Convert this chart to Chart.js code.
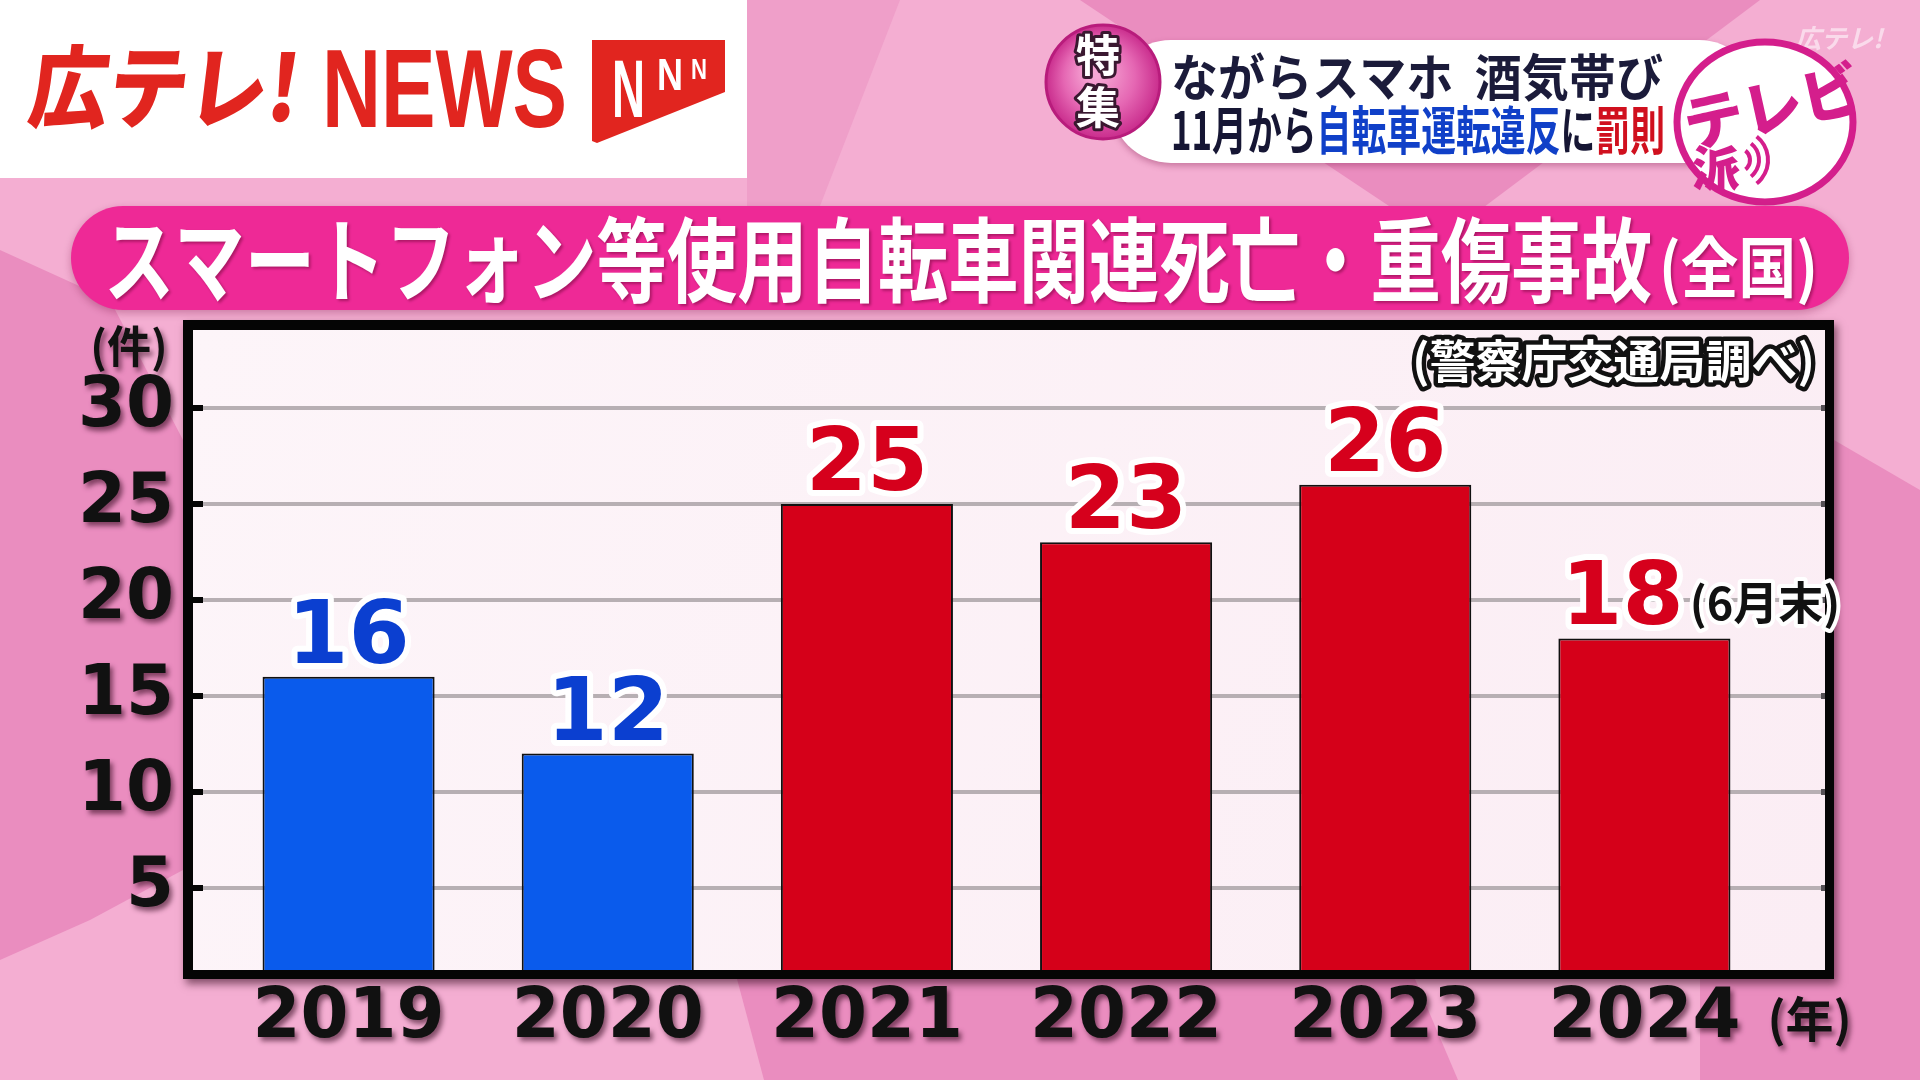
<!DOCTYPE html>
<html>
<head>
<meta charset="utf-8">
<script src="https://cdn.jsdelivr.net/npm/chart.js@4"></script>
<style>
  html, body { margin: 0; padding: 0; overflow: hidden; background: #f4add1; }
  canvas { position: absolute; left: 0; top: 0; }
</style>
</head>
<body>
<canvas id="bg" width="1920" height="1080"></canvas>
<canvas id="casesChart" width="1920" height="1080"></canvas>
<script>
// data
const years = ['2019', '2020', '2021', '2022', '2023', '2024'];
const cases = [16, 12, 25, 23, 26, 18];
const caseNotes = ['', '', '', '', '', '(6月末)'];
const yTicks = [5, 10, 15, 20, 25, 30];
const yMin = 0.73;
const yMax = 34.06;

const title = 'スマートフォン等使用自転車関連死亡・重傷事故';
const titleSub = '(全国)';
const sourceText = '(警察庁交通局調べ)';
const yUnit = '(件)';
const xUnit = '(年)';

const BLUE = '#0a5bec';
const RED = '#d50019';
const LABEL_BLUE = '#0b3fd0';
const LABEL_RED = '#d6001c';
const JP = '"Noto Sans CJK JP"';

// ---------- background + header (plain canvas) ----------
function poly(ctx, pts, color) {
    ctx.beginPath();
    ctx.moveTo(pts[0][0], pts[0][1]);
    for (let i = 1; i < pts.length; i++) ctx.lineTo(pts[i][0], pts[i][1]);
    ctx.closePath();
    ctx.fillStyle = color;
    ctx.fill();
}

function fitText(ctx, text, x, y, w, font, fill, stroke, lw) {
    ctx.save();
    ctx.font = font;
    const m = ctx.measureText(text).width;
    ctx.translate(x, y);
    ctx.scale(w / m, 1);
    ctx.textAlign = 'left';
    if (stroke) {
        ctx.lineJoin = 'round';
        ctx.strokeStyle = stroke;
        ctx.lineWidth = lw;
        ctx.strokeText(text, 0, 0);
    }
    ctx.fillStyle = fill;
    ctx.fillText(text, 0, 0);
    ctx.restore();
}

function roundRect(ctx, x, y, w, h, r) {
    ctx.beginPath();
    ctx.moveTo(x + r, y);
    ctx.lineTo(x + w - r, y);
    ctx.arc(x + w - r, y + r, r, -Math.PI / 2, 0);
    ctx.lineTo(x + w, y + h - r);
    ctx.arc(x + w - r, y + h - r, r, 0, Math.PI / 2);
    ctx.lineTo(x + r, y + h);
    ctx.arc(x + r, y + h - r, r, Math.PI / 2, Math.PI);
    ctx.lineTo(x, y + r);
    ctx.arc(x + r, y + r, r, Math.PI, Math.PI * 1.5);
    ctx.closePath();
}

function drawBackground() {
    const c = document.getElementById('bg').getContext('2d');
    const dark = '#ea8dbf';
    c.fillStyle = '#f4aed2';
    c.fillRect(0, 0, 1920, 1080);

    // darker facets
    poly(c, [[0, 250], [110, 300], [183, 440], [183, 870], [90, 920], [0, 960]], dark);
    poly(c, [[737, 979], [764, 1080], [1458, 1080], [1415, 979]], dark);
    poly(c, [[1700, 979], [1700, 1080], [1920, 1080], [1920, 979]], dark);
    poly(c, [[1834, 440], [1920, 490], [1920, 1080], [1834, 1080]], dark);
    poly(c, [[1080, 0], [1760, 0], [1440, 240]], dark);
    poly(c, [[747, 0], [900, 0], [820, 206], [747, 206]], '#ef9fc9');

    // logo box
    c.fillStyle = '#ffffff';
    c.fillRect(0, 0, 747, 178);
    c.textBaseline = 'middle';
    c.save();
    c.translate(22, 87);
    c.transform(1, 0, -0.12, 1, 0, 0);
    fitText(c, '広テレ!', 8, 0, 270, '900 90px ' + JP, '#e1251f');
    c.restore();
    c.textBaseline = 'alphabetic';
    fitText(c, 'NEWS', 322, 127, 245, 'bold 112px "Liberation Sans"', '#e1251f');
    poly(c, [[592, 40], [725, 40], [725, 92], [597, 143], [592, 141]], '#e1251f');
    fitText(c, 'N', 612, 117, 33, 'bold 82px "Liberation Sans"', '#ffffff');
    fitText(c, 'N', 657, 90, 26, 'bold 44px "Liberation Sans"', '#ffffff');
    fitText(c, 'N', 691, 79, 16, 'bold 29px "Liberation Sans"', '#ffffff');

    // faint watermark
    c.font = 'italic bold 26px ' + JP;
    c.fillStyle = 'rgba(255,255,255,0.55)';
    c.fillText('広テレ!', 1795, 48);

    // white pill of the feature header
    c.save();
    c.shadowColor = 'rgba(120,20,70,0.35)';
    c.shadowBlur = 6;
    c.shadowOffsetY = 3;
    roundRect(c, 1110, 40, 650, 123, 61);
    c.fillStyle = '#ffffff';
    c.fill();
    c.restore();

    // 特集 badge
    const g = c.createRadialGradient(1095, 70, 8, 1103, 82, 58);
    g.addColorStop(0, '#f6a6d4');
    g.addColorStop(0.55, '#e567b3');
    g.addColorStop(1, '#c82a8b');
    c.beginPath();
    c.arc(1103, 82, 57, 0, Math.PI * 2);
    c.fillStyle = g;
    c.fill();
    c.lineWidth = 3;
    c.strokeStyle = '#b81c7c';
    c.stroke();
    c.textBaseline = 'middle';
    c.textAlign = 'center';
    c.font = 'bold 44px ' + JP;
    c.lineJoin = 'round';
    c.lineWidth = 6;
    c.strokeStyle = '#3a1830';
    c.fillStyle = '#ffffff';
    c.strokeText('特', 1098, 55);
    c.fillText('特', 1098, 55);
    c.strokeText('集', 1098, 107);
    c.fillText('集', 1098, 107);
    c.textAlign = 'left';

    // header lines
    fitText(c, 'ながらスマホ  酒気帯び', 1171, 77, 492, 'bold 50px ' + JP, '#1b1b3a');
    const parts = [['11月から', '#161634'], ['自転車運転違反', '#1040c8'], ['に', '#161634'], ['罰則', '#d0101e']];
    c.font = 'bold 52px ' + JP;
    let total = 0;
    parts.forEach(p => { total += c.measureText(p[0]).width; });
    const s = 494 / total;
    let px = 1171;
    parts.forEach(p => {
        const w = c.measureText(p[0]).width * s;
        fitText(c, p[0], px, 130, w, 'bold 52px ' + JP, p[1]);
        px += w;
    });

    // テレビ派 logo
    c.beginPath();
    c.ellipse(1765, 122, 88, 80, 0, 0, Math.PI * 2);
    c.fillStyle = '#ffffff';
    c.fill();
    c.lineWidth = 7;
    c.strokeStyle = '#d41e8c';
    c.stroke();
    c.save();
    c.translate(1772, 106);
    c.rotate(-0.22);
    c.textAlign = 'center';
    c.font = '900 60px ' + JP;
    c.fillStyle = '#d41e8c';
    c.fillText('テレビ', 0, 0);
    c.restore();
    c.textAlign = 'center';
    c.font = '900 48px ' + JP;
    c.fillStyle = '#d41e8c';
    c.fillText('派', 1716, 168);
    c.lineWidth = 4;
    c.strokeStyle = '#d41e8c';
    for (let i = 0; i < 3; i++) {
        c.beginPath();
        c.arc(1738, 160, 12 + i * 9, -0.9, 0.9);
        c.stroke();
    }
    c.textAlign = 'left';

    // title banner
    c.save();
    c.shadowColor = 'rgba(120,20,70,0.35)';
    c.shadowBlur = 8;
    c.shadowOffsetY = 3;
    roundRect(c, 71, 206, 1778, 104, 52);
    c.fillStyle = '#ee2996';
    c.fill();
    c.restore();
    c.save();
    c.shadowColor = 'rgba(90,0,40,0.45)';
    c.shadowBlur = 3;
    c.shadowOffsetX = 2;
    c.shadowOffsetY = 2;
    c.textBaseline = 'middle';
    fitText(c, title, 104, 260, 1548, 'bold 92px ' + JP, '#ffffff');
    fitText(c, titleSub, 1659, 267, 159, 'bold 66px ' + JP, '#ffffff');
    c.restore();
}

drawBackground();

// ---------- chart ----------
const framePlugin = {
    id: 'frame',
    beforeDraw(chart) {
        const ctx = chart.ctx;
        const a = chart.chartArea;
        const y = chart.scales.y;
        const inL = a.left - 26, inR = a.right + 51, inT = a.top, inB = a.bottom;
        ctx.save();
        ctx.shadowColor = 'rgba(40,0,20,0.55)';
        ctx.shadowBlur = 8;
        ctx.shadowOffsetX = 3;
        ctx.shadowOffsetY = 5;
        ctx.fillStyle = '#050505';
        ctx.fillRect(inL - 10, inT - 10, inR - inL + 19, inB - inT + 19);
        ctx.restore();
        const grad = ctx.createLinearGradient(inL, inT, inR, inB);
        grad.addColorStop(0, '#fdf5f9');
        grad.addColorStop(1, '#fbedf4');
        ctx.fillStyle = grad;
        ctx.fillRect(inL, inT, inR - inL, inB - inT);

        // gridlines across the whole frame
        y.ticks.forEach(t => {
            const py = Math.round(y.getPixelForValue(t.value));
            ctx.fillStyle = '#b7afb3';
            ctx.fillRect(inL, py - 2, inR - inL, 4);
            ctx.fillStyle = '#050505';
            ctx.fillRect(inL, py - 3, 10, 6);
            ctx.fillStyle = '#555055';
            ctx.fillRect(inR - 4, py - 3, 4, 6);
        });

        // source note
        ctx.font = 'bold 46px ' + JP;
        ctx.textAlign = 'right';
        ctx.textBaseline = 'middle';
        ctx.lineJoin = 'round';
        ctx.lineWidth = 9;
        ctx.strokeStyle = '#111111';
        ctx.strokeText(sourceText, inR - 10, inT + 31);
        ctx.fillStyle = '#ffffff';
        ctx.fillText(sourceText, inR - 10, inT + 31);

        // labels outside the frame get a drop shadow (also used by the axis ticks)
        ctx.shadowColor = 'rgba(40,0,20,0.55)';
        ctx.shadowBlur = 5;
        ctx.shadowOffsetX = 3;
        ctx.shadowOffsetY = 4;
        ctx.fillStyle = '#111111';
        ctx.font = 'bold 44px ' + JP;
        ctx.textAlign = 'center';
        ctx.fillText(yUnit, 129, inT + 16);
        const x = chart.scales.x;
        ctx.textAlign = 'left';
        ctx.font = 'bold 48px ' + JP;
        ctx.fillText(xUnit, x.getPixelForValue(years.length - 1) + 123, 1019);
    },
    beforeDatasetsDraw(chart) {
        const ctx = chart.ctx;
        ctx.shadowColor = 'rgba(0,0,0,0)';
        ctx.shadowBlur = 0;
        ctx.shadowOffsetX = 0;
        ctx.shadowOffsetY = 0;
    }
};

const valueLabels = {
    id: 'valueLabels',
    afterDatasetsDraw(chart) {
        const ctx = chart.ctx;
        const meta = chart.getDatasetMeta(0);
        ctx.save();
        ctx.lineJoin = 'round';
        ctx.textBaseline = 'alphabetic';
        meta.data.forEach((bar, i) => {
            const txt = String(cases[i]);
            const note = caseNotes[i];
            const early = Number(years[i]) < 2021;
            const cx = note ? bar.x - 22 : bar.x;
            const by = bar.y - 14;
            ctx.font = 'bold 88px "DejaVu Sans"';
            ctx.textAlign = 'center';
            ctx.strokeStyle = '#ffffff';
            ctx.lineWidth = 12;
            ctx.strokeText(txt, cx, by);
            ctx.fillStyle = early ? LABEL_BLUE : LABEL_RED;
            ctx.fillText(txt, cx, by);
            if (note) {
                const w = ctx.measureText(txt).width;
                ctx.font = 'bold 45px ' + JP;
                ctx.textAlign = 'left';
                ctx.lineWidth = 8;
                ctx.strokeText(note, cx + w / 2 + 6, by - 4);
                ctx.fillStyle = '#111111';
                ctx.fillText(note, cx + w / 2 + 6, by - 4);
            }
        });
        ctx.restore();
    }
};

const tickFont = { family: '"DejaVu Sans"', weight: 'bold', size: 69 };

const chart = new Chart(document.getElementById('casesChart').getContext('2d'), {
    type: 'bar',
    data: {
        labels: years,
        datasets: [{
            data: cases,
            backgroundColor: c => Number(years[c.dataIndex]) < 2021 ? BLUE : RED,
            borderColor: '#111111',
            borderWidth: 2,
            borderSkipped: 'bottom',
            barPercentage: 0.664,
            categoryPercentage: 1
        }]
    },
    options: {
        responsive: false,
        animation: false,
        layout: { padding: { left: 0, top: 330, right: 146, bottom: 0 } },
        plugins: {
            legend: { display: false },
            tooltip: { enabled: false }
        },
        scales: {
            x: {
                grid: { display: false, drawTicks: false },
                border: { display: false },
                ticks: { font: tickFont, color: '#111111', padding: 8, maxRotation: 0, autoSkip: false },
                afterFit: s => { s.height = 110; }
            },
            y: {
                min: yMin,
                max: yMax,
                grid: { display: false, drawTicks: false },
                border: { display: false },
                ticks: { font: tickFont, color: '#111111', padding: 45 },
                afterBuildTicks: s => { s.ticks = yTicks.map(v => ({ value: v })); },
                afterFit: s => { s.width = 219; }
            }
        }
    },
    plugins: [framePlugin, valueLabels]
});
</script>
</body>
</html>
